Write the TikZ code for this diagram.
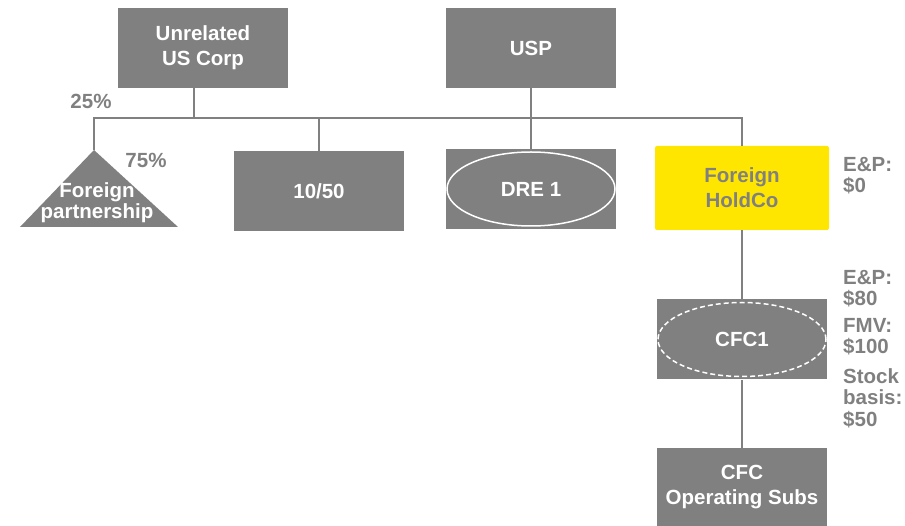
\documentclass[tikz,border=0pt]{standalone}
\usepackage{fontspec}
\setmainfont{Liberation Sans}
\definecolor{boxgray}{HTML}{808080}
\definecolor{eyyellow}{HTML}{FFE600}
\begin{document}
\begin{tikzpicture}[x=1pt,y=-1pt,
  ent/.style={fill=boxgray, text=white, minimum width=170pt, minimum height=80pt, inner sep=0pt, align=center, font=\bfseries\fontsize{20.5}{25}\selectfont},
  conn/.style={draw=boxgray, line width=1.8pt},
  lbl/.style={text=boxgray, align=left, inner sep=0pt, font=\bfseries\fontsize{20.5}{21.5}\selectfont},
  ring/.style={draw=white, line width=1.5pt}]
\useasboundingbox (0,0) rectangle (905,526);

% entities
\node[ent] (unrel) at (203,48) {Unrelated\\US Corp};
\node[ent] (usp) at (531,48) {USP};
\node[ent] (t1050) at (319,191) {10/50};
\node[ent] (dre) at (531,189) {DRE 1};
\node[ent, fill=eyyellow, text=boxgray, rounded corners=2pt, minimum width=174pt, minimum height=84pt] (holdco) at (742,188) {Foreign\\HoldCo};
\node[ent] (cfc1) at (742,339.5) {CFC1};
\node[ent, minimum height=78pt] (ops) at (742,487) {CFC\\Operating Subs};

% ellipses
\draw[ring] (dre.center) ellipse [x radius=84pt, y radius=37pt];
\draw[ring, dash pattern=on 5pt off 3pt] (cfc1.center) ellipse [x radius=84pt, y radius=37pt];

% triangle
\coordinate (apex) at (94,150);
\fill[boxgray] (apex) -- (178,227) -- (20,227) -- cycle;
\node[align=center, inner sep=0pt, text=white, font=\bfseries\fontsize{20.5}{21}\selectfont] (fptext) at (97,203) {Foreign\\partnership};

% connectors
\coordinate (ujoin) at (194,118);
\coordinate (spL) at (94,118);
\coordinate (spR) at (holdco.north |- spL);
\draw[conn] (apex) -- (spL) -- (spR) -- (holdco.north);
\draw[conn] (unrel.south -| ujoin) -- (ujoin);
\draw[conn] (usp.south) -- (usp.south |- spL);
\draw[conn] (t1050.north) -- (t1050.north |- spL);
\draw[conn] (dre.north) -- (dre.north |- spL);
\draw[conn] (holdco.south) -- (cfc1.north);
\draw[conn] (cfc1.south) -- (ops.north);

% labels
\node[lbl, anchor=base] (p25) at (91,109) {25\%};
\node[lbl, anchor=base] (p75) at (146,168) {75\%};
\node[lbl, anchor=north west] (ep0) at (843,157) {E\&P:\\\$0};
\node[lbl, anchor=north west] (ep80) at (843,270) {E\&P:\\\$80};
\node[lbl, anchor=north west] (fmv) at (843,318) {FMV:\\\$100};
\node[lbl, anchor=north west] (basis) at (843,368) {Stock\\basis:\\\$50};
\end{tikzpicture}
\end{document}
